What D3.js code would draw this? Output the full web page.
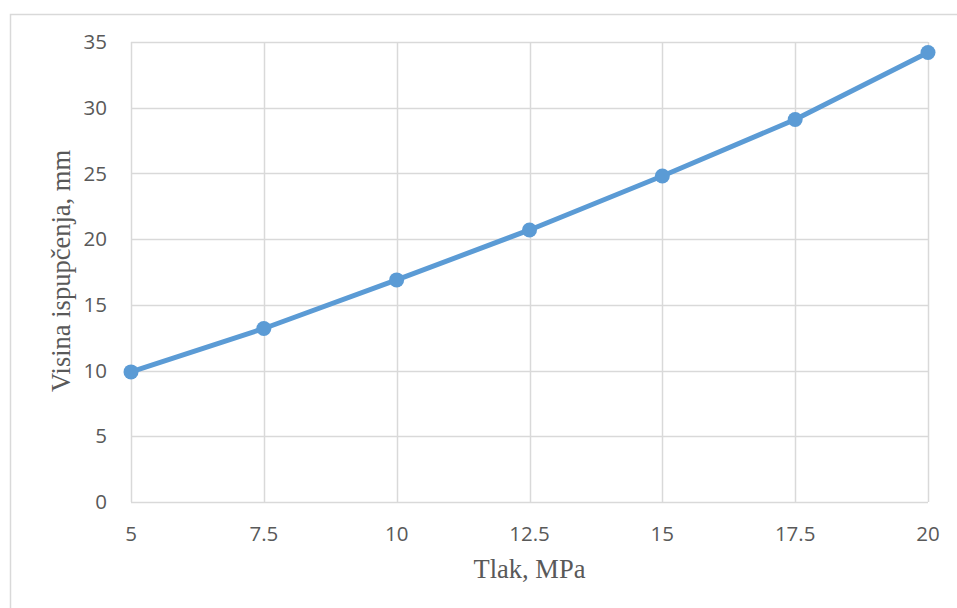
<!DOCTYPE html>
<html>
<head>
<meta charset="utf-8">
<script src="https://cdn.jsdelivr.net/npm/d3@7"></script>
<style>
  body { margin: 0; background: #fff; }
  svg { display: block; }
</style>
</head>
<body>
<svg id="chart" width="957" height="608"></svg>
<script>
// data
const pressure = [5, 7.5, 10, 12.5, 15, 17.5, 20];
const height = [9.9, 13.2, 16.9, 20.7, 24.8, 29.1, 34.2];
const xTicks = [5, 7.5, 10, 12.5, 15, 17.5, 20];
const yTicks = [0, 5, 10, 15, 20, 25, 30, 35];
const xTitle = 'Tlak, MPa';
const yTitle = 'Visina ispupčenja, mm';

const svg = d3.select('#chart');
const margin = { top: 42, right: 29, bottom: 106, left: 131 };
const W = 957, H = 608;
const innerW = W - margin.left - margin.right;
const innerH = H - margin.top - margin.bottom;

// outer chart-area border
svg.append('rect')
  .attr('x', 10.5).attr('y', 14.5)
  .attr('width', 960).attr('height', 620)
  .attr('fill', 'none')
  .attr('stroke', '#d9d9d9')
  .attr('stroke-width', 1.5);

const g = svg.append('g')
  .attr('transform', `translate(${margin.left},${margin.top})`);

const x = d3.scaleLinear().domain([5, 20]).range([0, innerW]);
const y = d3.scaleLinear().domain([0, 35]).range([innerH, 0]);

// gridlines
g.append('g').selectAll('line.h')
  .data(yTicks)
  .join('line')
  .attr('x1', 0).attr('x2', innerW)
  .attr('y1', d => Math.round(y(d)) + 0.5)
  .attr('y2', d => Math.round(y(d)) + 0.5)
  .attr('stroke', '#d9d9d9')
  .attr('stroke-width', 1.5);

g.append('g').selectAll('line.v')
  .data(xTicks)
  .join('line')
  .attr('y1', 0).attr('y2', innerH)
  .attr('x1', d => Math.round(x(d)) + 0.5)
  .attr('x2', d => Math.round(x(d)) + 0.5)
  .attr('stroke', '#d9d9d9')
  .attr('stroke-width', 1.5);

// tick labels
const tickFont = '"Open Sans", sans-serif';
g.append('g').selectAll('text')
  .data(yTicks)
  .join('text')
  .attr('x', -24)
  .attr('y', d => y(d))
  .attr('dy', '0.35em')
  .attr('text-anchor', 'end')
  .attr('font-family', tickFont)
  .attr('font-size', 20.5)
  .attr('fill', '#595959')
  .text(d => d);

g.append('g').selectAll('text')
  .data(xTicks)
  .join('text')
  .attr('x', d => x(d))
  .attr('y', innerH + 39)
  .attr('text-anchor', 'middle')
  .attr('font-family', tickFont)
  .attr('font-size', 20.5)
  .attr('fill', '#595959')
  .text(d => d);

// axis titles
svg.append('text')
  .attr('x', margin.left + innerW / 2)
  .attr('y', 578)
  .attr('text-anchor', 'middle')
  .attr('font-family', '"Liberation Serif", serif')
  .attr('font-size', 26.5)
  .attr('fill', '#595959')
  .text(xTitle);

svg.append('text')
  .attr('transform', 'translate(70,271) rotate(-90)')
  .attr('text-anchor', 'middle')
  .attr('font-family', '"Liberation Serif", serif')
  .attr('font-size', 26.5)
  .attr('fill', '#595959')
  .text(yTitle);

// series
const pts = pressure.map((p, i) => [p, height[i]]);
g.append('path')
  .datum(pts)
  .attr('fill', 'none')
  .attr('stroke', '#5b9bd5')
  .attr('stroke-width', 5)
  .attr('stroke-linejoin', 'round')
  .attr('d', d3.line().x(d => x(d[0])).y(d => y(d[1])));

g.selectAll('circle')
  .data(pts)
  .join('circle')
  .attr('cx', d => x(d[0]))
  .attr('cy', d => y(d[1]))
  .attr('r', 7.5)
  .attr('fill', '#5b9bd5');
</script>
</body>
</html>
